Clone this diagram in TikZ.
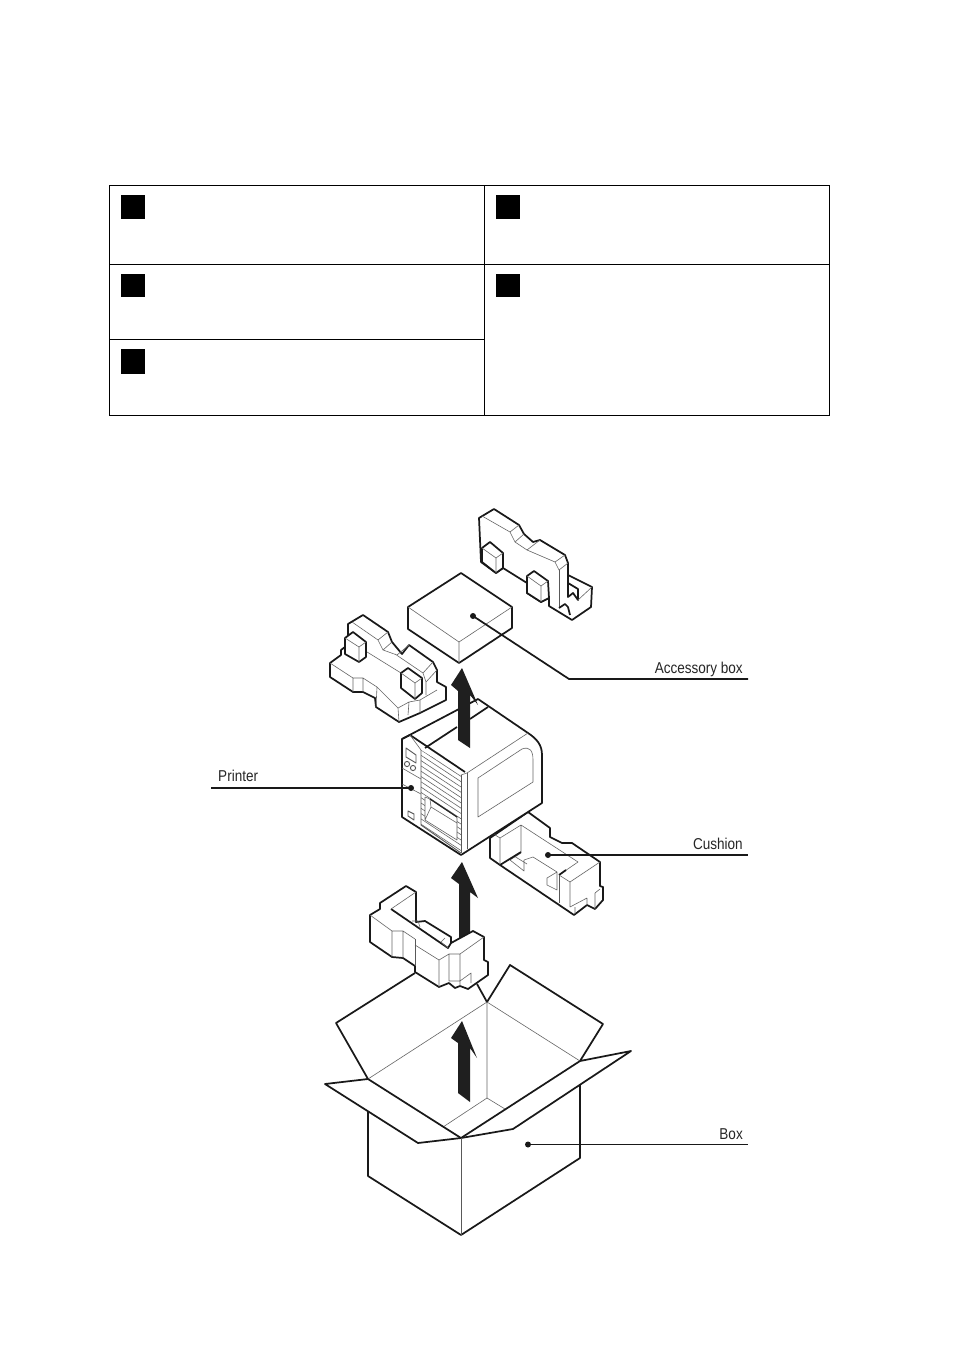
\documentclass[tikz,border=0pt]{standalone}
\usepackage{fontspec}
\setmainfont{Liberation Sans}
\tikzset{
  hv/.style={line width=1.3pt,black!90,line join=round},
  hvw/.style={hv,fill=white},
  tn/.style={line width=0.45pt,black!60,line join=round},
  tnd/.style={line width=0.7pt,black!65,line join=round},
  tbl/.style={line width=0.9pt,black},
  sq/.style={fill=black,draw=none},
  arr/.style={fill=black!88,draw=none},
  lead/.style={line width=1.3pt,black!90},
  dotm/.style={circle,fill=black!90,inner sep=0pt,minimum size=4.5pt},
  lab/.style={font=\fontsize{11.8pt}{13pt}\selectfont,inner sep=0pt,text=black!85,xscale=0.86},
}
\begin{document}
\begin{tikzpicture}[x=0.75pt,y=-0.75pt]
\useasboundingbox (0,0) rectangle (954,1351);
\fill[white] (0,0) rectangle (954,1351);
% table
\draw[tbl] (109.7,185.3) -- (829.7,185.3) -- (829.7,415.3) -- (109.7,415.3) -- cycle;
\draw[tbl] (484.3,185.3) -- (484.3,415.3);
\draw[tbl] (109.7,264.3) -- (829.7,264.3);
\draw[tbl] (109.7,339.3) -- (484.3,339.3);
\fill[sq] (121,195) rectangle (145,219);
\fill[sq] (121,274) rectangle (145,297);
\fill[sq] (121,349) rectangle (145,374);
\fill[sq] (496,195) rectangle (520,219);
\fill[sq] (496,274) rectangle (520,297);

% top-right cushion
\draw[hvw] (479,518) -- (494,509) -- (519,525) -- (524,534) -- (533,542) -- (540,540) -- (565,555) -- (568,563) -- (568,575) -- (592,587) -- (591,607) -- (572,620) -- (549,606) -- (549,598) -- (541,602) -- (527,593) -- (527,583) -- (503,568) -- (496,573) -- (481,562) -- cycle;
\draw[tn] (482,516) -- (510,532) -- (519,525) (510,532) -- (515,542) -- (524,534) (515,542) -- (527,550) -- (540,540) (527,550) -- (555,562) -- (565,555) (555,562) -- (559,570) -- (568,563);
\draw[hvw] (482,548) -- (490,542) -- (503,553) -- (503,568) -- (496,573) -- (482,562) -- cycle;
\draw[tn] (482,548) -- (496,558) -- (503,553) (496,558) -- (496,573);
\draw[hvw] (527,576) -- (534,571) -- (548,581) -- (549,598) -- (541,602) -- (527,593) -- cycle;
\draw[tn] (527,576) -- (541,586) -- (548,581) (541,586) -- (541,602);
\draw[tnd] (559,570) -- (559,608);
\draw[hv] (568,575) -- (568,597) -- (573,593) -- (578,600) -- (578,589) -- (568,583);
\draw[tn] (578,600) -- (592,587);
\draw[hv] (559,608) -- (565,604) -- (568,607) (568,607) -- (570,615);

% accessory box
\draw[hvw] (461,573) -- (512,607) -- (512,628) -- (459,663) -- (408,629) -- (408,607) -- cycle;
\draw[tn] (408,607) -- (459,642) -- (512,607) (459,642) -- (459,663);

% left cushion
\draw[hvw] (330,663) -- (341,655) -- (341,650) -- (345,647) -- (348,636) -- (348,624) -- (363,615) -- (388,632) -- (392,642) -- (402,654) -- (409,645) -- (433,662) -- (437,670) -- (437,682) -- (446,687) -- (446,700) -- (420,713) -- (399,722) -- (376,707) -- (375,698) -- (363,692) -- (353,692) -- (330,677) -- cycle;
\draw[tn] (330,663) -- (353,678) -- (363,678) -- (377,687) -- (398,708) -- (399,722) (398,708) -- (409,702) -- (420,700) -- (437,690)
 (353,678) -- (353,692) (363,678) -- (363,692) (409,702) -- (408,715) (420,700) -- (420,713) (377,687) -- (376,707)
 (352,622) -- (378,640) -- (388,632) (378,640) -- (383,650) -- (392,642) (383,650) -- (397,655) -- (409,645)
 (395,654) -- (423,673) -- (433,662) (423,673) -- (426,682) -- (437,670) (426,682) -- (426,695)
 (359,647) -- (401,673);
\draw[hvw] (345,638) -- (353,632) -- (366,642) -- (366,657) -- (359,662) -- (345,654) -- cycle;
\draw[tn] (345,638) -- (359,647) -- (366,642) (359,647) -- (359,662);
\draw[hvw] (401,673) -- (408,668) -- (422,678) -- (422,693) -- (415,699) -- (401,688) -- cycle;
\draw[tn] (401,673) -- (415,683) -- (422,678) (415,683) -- (415,699);

% right cushion
\draw[hvw] (490,838) -- (528,812) -- (550,828) -- (550,837) -- (562,843) -- (572,843) -- (600,862) -- (600,886) -- (603,887) -- (603,900) -- (595,909) -- (587,905) -- (574,915) -- (500,865) -- (490,858) -- cycle;
\draw[tn] (492,833) -- (500,838) -- (500,865) (500,838) -- (521,825) -- (578,862) -- (559,875) (521,825) -- (521,852)
 (570,882) -- (600,862) (570,882) -- (570,907)
 (559,875) -- (570,882)
 (575,907) -- (575,914) (587,898) -- (587,905) (595,893) -- (595,909) (570,907) -- (587,898) (595,893) -- (600,889)
 (524,860) -- (533,857) -- (557,872) -- (557,890) -- (547,885) -- (547,878) -- (557,872)
 (524,860) -- (524,871) -- (510,860) -- (521,853) (514,856) -- (527,864);
\draw[hv] (521,852) -- (500,865);
\draw[hv] (559,875) -- (566,870);
\draw[tnd] (559,875) -- (559,903);

% printer
\draw[hvw] (402,739) -- (478,699) -- (528,733) .. controls (537,739) and (542,745) .. (542,755) -- (542,803) -- (461,855) -- (402,817) -- cycle;
% hatching
\begin{scope}
\clip (421,750) -- (461,775) -- (461,853) -- (421,825) -- cycle;
\foreach \k in {0,...,20}{
  \draw[tn] (421,{750+5.3*\k}) -- (462,{777+5.3*\k});
}
\end{scope}
\draw[hv] (402,739) -- (410,735) -- (465,772);
\draw[hv] (425,748) -- (457,727) (470,719) -- (488,707);
\draw[tn] (467,773) -- (528,733);
\draw[tnd] (461,775) -- (461,853);
\draw[tnd] (467,773) -- (467,849);
\draw[tn] (461,775) -- (467,773);
\draw[tnd] (421,750) -- (421,825) -- (461,853);
\draw[tn] (410,735) -- (421,750);
\draw[tn] (478,778) -- (522,749) .. controls (530,746) and (533,751) .. (533,760) -- (533,782) -- (478,817) -- cycle;
\draw[tnd] (406,748) -- (416,755) -- (416,763) -- (406,757) -- cycle;
\draw[tnd] (407,764) circle[radius=2.6] (413,768) circle[radius=2.6];
\draw[tnd] (408,811) -- (414,814) -- (414,820) -- (408,816) -- cycle;
\draw[tn] (402,768) -- (421,779) (402,784) -- (421,794);
% door
\fill[white] (425,797) -- (430,799) -- (457,817) -- (457,840) -- (425,820) -- cycle;
\draw[tn] (425,797) -- (430,799) (425,820) -- (457,840) (425,797) -- (425,820) (430,799) -- (431,807) -- (425,820) (431,807) -- (457,823);
\draw[tnd] (430,799) -- (457,817) -- (457,840);
\draw[line width=0.9pt,black!85] (430,799) -- (457,817);

% box
\draw[hv] (415,973) -- (336,1023) -- (368,1079) -- (325,1084) -- (418,1143) -- (461,1138) -- (513,1129) -- (631,1051) -- (580,1061) -- (603,1024) -- (510,965) -- (487,1002) -- (477,984);
\draw[tn] (487,1002) -- (368,1079) (487,1002) -- (580,1061) (487,1002) -- (487,1098) -- (443,1127) (487,1098) -- (505,1109);
\draw[hv] (368,1079) -- (461,1138) -- (580,1061);
\draw[hv] (368,1112) -- (368,1176) -- (461,1235) -- (580,1158) -- (580,1085);
\draw[tnd] (461,1138) -- (461,1235);
% arrow in box
\fill[arr] (462,1021) -- (451,1038) -- (458,1043) -- (458,1093) -- (470,1102) -- (470,1048) -- (477,1058) -- cycle;
% arrow middle
\fill[arr] (462,862) -- (451,878) -- (459,884) -- (459,938) -- (470,935) -- (470,892) -- (478,898) -- cycle;
% arrow upper
\fill[arr] (462,668) -- (451,685) -- (458,691) -- (458,740) -- (470,748) -- (470,695) -- (478,705) -- cycle;

% lower cushion
\draw[hvw] (370,915) -- (380,909) -- (380,903) -- (406,886) -- (416,892) -- (416,922) -- (425,921) -- (451,937) -- (451,943) -- (473,931) -- (484,937) -- (484,960) -- (488,962) -- (488,975) -- (468,989) -- (460,986) -- (455,988) -- (449,983) -- (439,987) -- (415,972) -- (415,966) -- (403,958) -- (392,957) -- (370,942) -- cycle;
\draw[hv] (391,909) -- (448,948) -- (451,943);
\draw[tn] (391,909) -- (416,892)
 (370,915) -- (392,931) -- (403,931) -- (415,939)
 (392,931) -- (392,957) (403,931) -- (403,958)
 (415,945) -- (439,960) -- (439,987)
 (439,960) -- (449,954) -- (460,954) -- (484,937)
 (449,954) -- (449,981) -- (460,981) (460,954) -- (460,986)
 (460,981) -- (471,973) -- (471,983)
 (412,921) -- (418,921) -- (420,927) (445,938) -- (441,942) -- (448,948);
\draw[tnd] (415,939) -- (415,966);

% leaders
\node[dotm] (dacc) at (473,616) {};
\coordinate (kacc) at (569,679);
\coordinate (eacc) at (748,679);
\node[lab,anchor=base east] (tacc) at (743,673) {Accessory box};
\draw[lead] (dacc.center) -- (kacc) -- (eacc);
\node[dotm] (dpr) at (411,788) {};
\coordinate (epr) at (211,788);
\node[lab,anchor=base west] (tpr) at (218,781) {Printer};
\draw[lead] (dpr.center) -- (epr);
\node[dotm] (dcu) at (548,855) {};
\coordinate (ecu) at (748,855);
\node[lab,anchor=base east] (tcu) at (743,849) {Cushion};
\draw[lead] (dcu.center) -- (ecu);
\node[dotm] (dbo) at (528,1144.5) {};
\coordinate (ebo) at (748,1144.5);
\node[lab,anchor=base east] (tbo) at (743,1139) {Box};
\draw[lead] (dbo.center) -- (ebo);
\end{tikzpicture}
\end{document}
